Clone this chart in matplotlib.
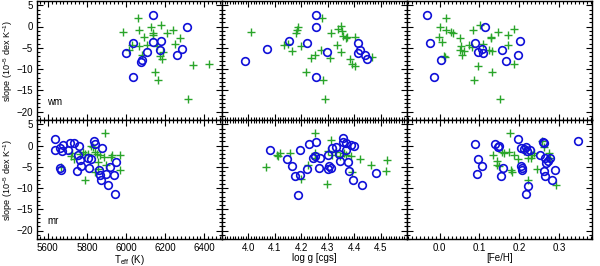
import numpy as np
import matplotlib
matplotlib.use('Agg')
import matplotlib.pyplot as plt
from matplotlib.ticker import MultipleLocator

plt.rcParams['font.family'] = ['Liberation Sans', 'DejaVu Sans']
plt.rcParams['mathtext.fontset'] = 'custom'
plt.rcParams['mathtext.rm'] = 'Liberation Sans'
plt.rcParams['mathtext.it'] = 'Liberation Sans'

# ---- fila superior (wm) : circulos ----
wm_teff_c = [6135, 6313, 6033, 6177, 6135, 6001, 6108, 6171, 6261, 6288, 6079, 6074, 6033]
wm_teff_c_s = [2.6, -0.2, -3.9, -3.4, -3.75, -6.3, -5.9, -5.5, -6.6, -5.2, -7.8, -8.3, -11.9]
wm_logg_c = [4.254, 4.254, 4.152, 4.221, 4.072, 4.298, 4.414, 4.422, 4.414, 4.442, 4.450, 3.986, 4.257]
wm_logg_c_s = [2.6, -0.2, -3.4, -3.8, -5.2, -5.9, -3.8, -5.5, -6.3, -6.6, -7.7, -8.2, -11.9]
wm_feh_c = [-0.031, 0.114, -0.023, 0.201, 0.088, 0.107, 0.096, 0.109, 0.158, 0.198, 0.003, 0.167, -0.015]
wm_feh_c_s = [2.6, -0.2, -3.8, -3.4, -3.8, -5.2, -5.9, -6.3, -5.5, -6.6, -7.8, -8.2, -11.9]

# ---- fila superior (wm) : cruces ----
wm_teff_p = [5982, 6060, 6067, 6127, 6178, 6140, 6135, 6208, 6239, 6094, 6106, 6157, 6249,
             6276, 6064, 6013, 6030, 6081, 6174, 6184, 6191, 6147, 6161, 6340, 6315, 6423]
wm_teff_p_s = [-1.2, 2.1, -0.9, -0.2, 0.3, -1.6, -2.1, -1.6, -0.9, -2.5, -4.3, -4.5, -4.1,
               -2.8, -4.7, -5.5, -4.3, -6.6, -6.9, -7.7, -5.9, -10.8, -12.5, -9.1, -17.0, -8.75]
wm_logg_p = [4.011, 4.188, 4.184, 4.181, 4.134, 4.150, 4.165, 4.198, 4.280, 4.312, 4.340,
             4.351, 4.355, 4.359, 4.368, 4.374, 4.404, 4.336, 4.350, 4.273, 4.251, 4.236,
             4.308, 4.383, 4.390, 4.403, 4.469, 4.216, 4.281, 4.290]
wm_logg_p_s = [-1.2, -0.2, -0.9, -1.5, -4.4, -4.1, -5.7, -4.5, 2.1, -1.6, -0.5, 0.2, -1.0,
               -2.3, -2.7, -2.5, -2.5, -4.4, -5.9, -5.5, -6.8, -7.3, -7.3, -7.7, -8.8, -9.3,
               -7.1, -10.7, -12.5, -17.0]
wm_feh_p = [0.017, 0.002, 0.017, 0.028, 0.034, -0.002, 0.006, 0.050, 0.083, 0.102, 0.053,
            0.052, 0.062, 0.055, 0.075, 0.082, 0.108, 0.128, 0.130, 0.146, 0.173, 0.187,
            0.171, 0.125, 0.132, 0.011, 0.014, 0.187, 0.097, 0.131, 0.086, 0.153]
wm_feh_p_s = [2.1, -0.2, -0.9, -1.3, -1.6, -2.5, -3.75, -2.7, -0.9, 0.3, -4.5, -5.6, -5.7,
              -6.6, -4.4, -4.8, -4.2, -2.7, -2.5, -1.4, -2.1, -0.5, -4.3, -5.5, -5.7, -6.9,
              -7.2, -8.8, -9.2, -10.7, -12.5, -17.0]

# ---- fila inferior (mr) : circulos ----
mr_teff_c = [5636, 5636, 5665, 5679, 5675, 5704, 5713, 5736, 5762, 5755, 5764, 5772, 5750,
             5670, 5804, 5823, 5813, 5835, 5840, 5879, 5864, 5869, 5872, 5899, 5906, 5920,
             5940, 5950, 5942, 5662]
mr_teff_c_s = [1.56, -1.02, -0.63, 0.16, -1.25, -1.17, 0.55, 0.55, -0.16, -2.19, -3.52, -4.84,
               -6.02, -5.70, -2.97, -3.28, -5.31, 1.02, 0.47, -0.55, -5.70, -6.88, -8.05,
               -6.64, -9.38, -5.08, -7.03, -3.91, -11.48, -5.39]
mr_logg_c = [4.082, 4.196, 4.228, 4.254, 4.147, 4.165, 4.175, 4.197, 4.222, 4.245, 4.270,
             4.266, 4.300, 4.300, 4.304, 4.317, 4.332, 4.342, 4.345, 4.359, 4.359, 4.368,
             4.368, 4.377, 4.380, 4.387, 4.399, 4.397, 4.431, 4.484, 4.186, 4.250, 4.314]
mr_logg_c_s = [-1.17, -1.02, 0.39, 0.94, -3.28, -4.84, -7.27, -7.03, -5.63, -2.97, -2.97,
               -5.31, -5.47, -2.34, -4.92, -0.63, -0.47, -2.11, -3.59, 1.72, 0.78, 0.63,
               -1.17, -3.91, -6.09, 0.23, 0.0, -8.20, -9.38, -6.48, -11.56, -2.58, -5.23]
mr_feh_c = [0.088, 0.139, 0.150, 0.147, 0.096, 0.106, 0.093, 0.160, 0.155, 0.197, 0.205,
            0.213, 0.218, 0.220, 0.227, 0.207, 0.207, 0.222, 0.218, 0.252, 0.263, 0.261,
            0.265, 0.268, 0.273, 0.278, 0.263, 0.264, 0.283, 0.290, 0.348, 0.204]
mr_feh_c_s = [0.47, 0.47, 0.0, -0.31, -3.28, -4.84, -6.64, -5.31, -7.27, 1.56, -0.63, -0.78,
              -0.47, -1.25, -1.17, -5.31, -5.78, -9.45, -11.48, -2.34, 0.55, 0.78, -2.97,
              -4.06, -3.75, -2.97, -5.94, -7.19, -8.20, -5.70, 1.02, -4.92]

# ---- fila inferior (mr) : cruces ----
mr_teff_p = [5894, 5821, 5781, 5789, 5725, 5720, 5736, 5806, 5840, 5852, 5855, 5855, 5869,
             5899, 5928, 5923, 5970, 5967, 5792, 5843, 5886, 5669, 5767, 5830]
mr_teff_p_s = [2.97, 0.0, -1.56, -2.11, -1.80, -2.58, -3.13, -2.11, -1.64, -1.95, -3.91,
               -5.47, -2.34, -4.69, -2.34, -2.73, -2.34, -5.70, -8.05, -6.25, -2.73, -5.08,
               -1.95, -0.47]
mr_logg_p = [4.251, 4.065, 4.107, 4.110, 4.121, 4.159, 4.250, 4.250, 4.224, 4.200, 4.298,
             4.300, 4.311, 4.317, 4.332, 4.346, 4.361, 4.368, 4.388, 4.390, 4.421, 4.463,
             4.521, 4.524]
mr_logg_p_s = [2.97, -5.08, -2.34, -2.58, -1.72, -1.72, -1.72, -2.97, -4.53, -7.97, -9.14,
               -1.41, 1.33, -2.19, -1.56, -2.58, -1.72, -2.19, -2.50, -6.25, -3.13, -4.69,
               -6.02, -3.52]
mr_feh_p = [0.176, 0.135, 0.158, 0.145, 0.143, 0.148, 0.175, 0.181, 0.180, 0.188, 0.196,
            0.211, 0.221, 0.229, 0.233, 0.238, 0.246, 0.222, 0.257, 0.262, 0.275, 0.278,
            0.292, 0.162]
mr_feh_p_s = [2.97, -2.34, -1.56, -3.59, -4.69, -4.92, -1.56, -6.25, -5.86, -2.34, -3.13,
              -1.41, -2.97, -2.97, -2.19, -1.80, -5.63, -8.05, 1.17, -0.39, -1.72, -2.97,
              -9.22, -1.80]

# etiquetas de los ejes x
teff_ticks = [5600, 5800, 6000, 6200, 6400]
logg_ticks = [4.0, 4.1, 4.2, 4.3, 4.4, 4.5]
feh_ticks = [0.0, 0.1, 0.2, 0.3]

filas = [
    ('wm', [(wm_teff_p, wm_teff_p_s, wm_teff_c, wm_teff_c_s),
            (wm_logg_p, wm_logg_p_s, wm_logg_c, wm_logg_c_s),
            (wm_feh_p, wm_feh_p_s, wm_feh_c, wm_feh_c_s)]),
    ('mr', [(mr_teff_p, mr_teff_p_s, mr_teff_c, mr_teff_c_s),
            (mr_logg_p, mr_logg_p_s, mr_logg_c, mr_logg_c_s),
            (mr_feh_p, mr_feh_p_s, mr_feh_c, mr_feh_c_s)]),
]

xlims = [(5545, 6490), (3.90, 4.60), (-0.082, 0.383)]
xticks = [teff_ticks, logg_ticks, feh_ticks]
xminor = [20, 0.01, 0.01]
xfmt = ['{:.0f}', '{:.1f}', '{:.1f}']
xlabels = [r'T$_{\rm eff}$ (K)', 'log g [cgs]', '[Fe/H]']
ylab = r'slope (10$^{-5}$ dex K$^{-1}$)'

fig = plt.figure(figsize=(6.0, 2.66), dpi=100)
left, w = 37 / 600, 185 / 600
h = 119 / 266
bottoms = [1 - 120 / 266, 1 - 239 / 266]

verde = '#2aa52a'
azul = '#1010d8'

for r, (nombre, paneles) in enumerate(filas):
    for c, (xp, yp, xc, yc) in enumerate(paneles):
        ax = fig.add_axes([left + c * w, bottoms[r], w, h])
        ax.plot(xp, yp, '+', color=verde, ms=5.5, mew=1.0, ls='none')
        ax.plot(xc, yc, 'o', mfc='none', mec=azul, ms=5.5, mew=1.2, ls='none')
        ax.set_xlim(*xlims[c])
        ax.set_ylim(-22, 6)
        ax.set_xticks(xticks[c])
        ax.xaxis.set_minor_locator(MultipleLocator(xminor[c]))
        ax.yaxis.set_major_locator(MultipleLocator(5))
        ax.yaxis.set_minor_locator(MultipleLocator(1))
        ax.tick_params(which='both', direction='in', top=True, right=True,
                       labelsize=7, width=0.8, pad=3)
        ax.tick_params(which='major', length=4)
        ax.tick_params(which='minor', length=2)
        for s in ax.spines.values():
            s.set_linewidth(1.0)
        if c == 0:
            ax.set_ylabel(ylab, fontsize=6.5, labelpad=1)
            ax.text(0.055, 0.13, nombre, transform=ax.transAxes, fontsize=7)
        else:
            ax.set_yticklabels([])
        if r == 1:
            ax.set_xticklabels([xfmt[c].format(t) for t in xticks[c]])
            ax.set_xlabel(xlabels[c], fontsize=7, labelpad=0)
        else:
            ax.set_xticklabels([])

fig.savefig('out.png', dpi=100)
